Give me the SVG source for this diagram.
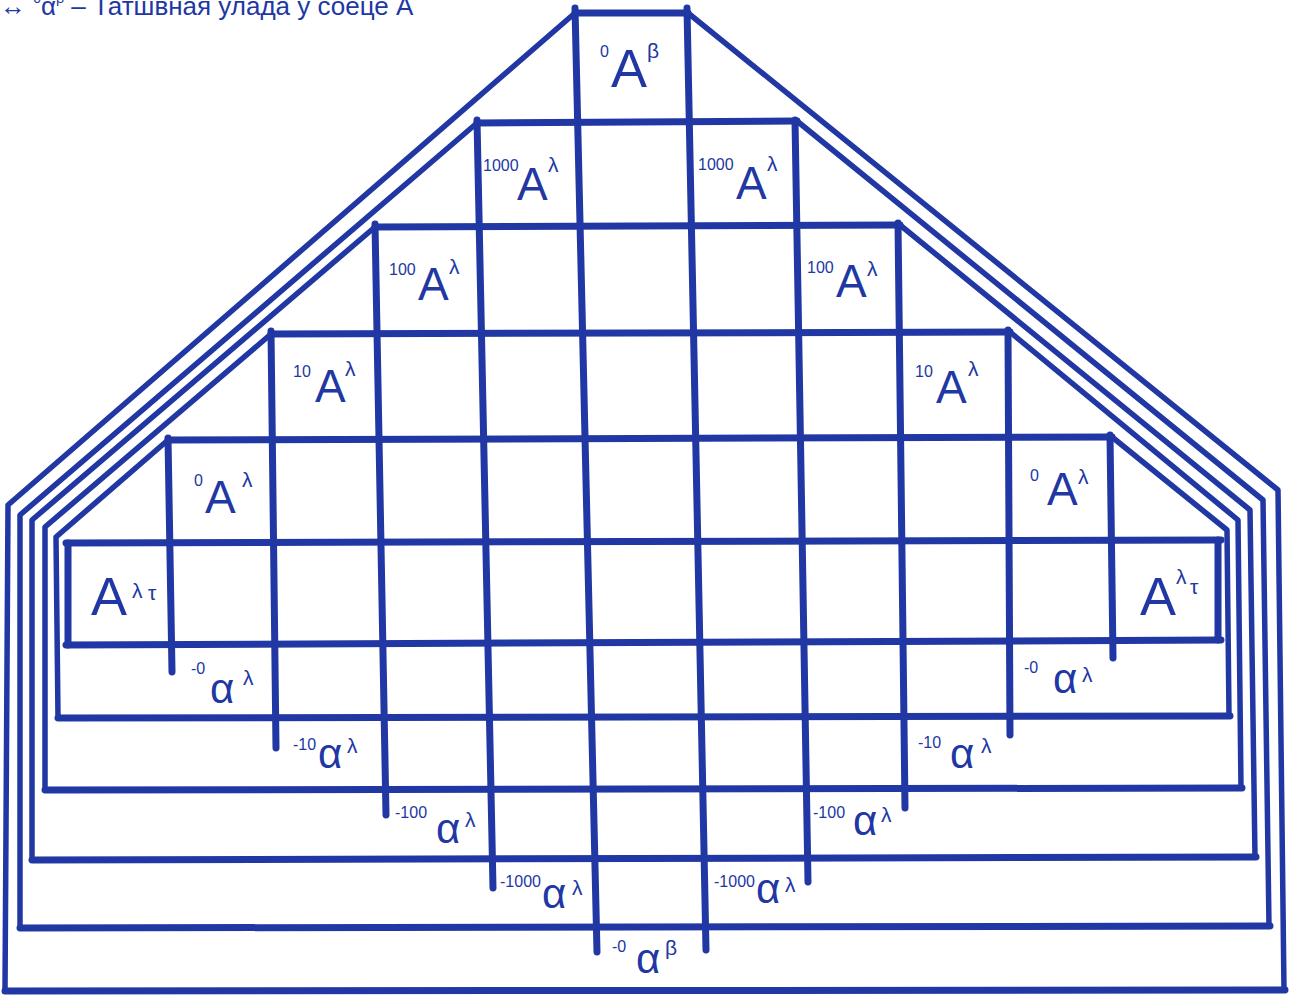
<svg xmlns="http://www.w3.org/2000/svg" width="1290" height="997" viewBox="0 0 1290 997">
<style>
.g{stroke:#2137a3;stroke-width:7;stroke-linecap:round;fill:none}
.r{stroke:#2137a3;stroke-width:5.5;stroke-linejoin:round;stroke-linecap:round;fill:none}
text{font-family:"Liberation Sans",Arial,sans-serif;fill:#2137a3}
.A{font-size:46px}
.AB{font-size:54px}
.s{font-size:16px}
.l{font-size:21px}
.a{font-size:42px}
</style>
<rect width="1290" height="997" fill="#ffffff"/>
<g id="caption">
<text font-size="26" x="0" y="15"><tspan>↔ </tspan><tspan font-size="14" dy="-12">0</tspan><tspan dy="12">α</tspan><tspan font-size="14" dy="-12">β</tspan><tspan dy="12"> – Татшвная улада у соеце А</tspan></text>
</g>
<g id="connectors">
<g id="grid">
<line class="g" x1="168" y1="438" x2="172" y2="672"/>
<line class="g" x1="271" y1="331" x2="276" y2="748"/>
<line class="g" x1="375" y1="224" x2="386" y2="815"/>
<line class="g" x1="477" y1="120" x2="493" y2="888"/>
<line class="g" x1="575" y1="8" x2="597" y2="952"/>
<line class="g" x1="687" y1="8" x2="706" y2="950"/>
<line class="g" x1="795" y1="120" x2="808" y2="882"/>
<line class="g" x1="898" y1="223" x2="905" y2="808"/>
<line class="g" x1="1008" y1="330" x2="1010" y2="735"/>
<line class="g" x1="1110" y1="435" x2="1113" y2="658"/>
<line class="g" x1="575" y1="13" x2="688" y2="13"/>
<line class="g" x1="477" y1="123" x2="797" y2="121"/>
<line class="g" x1="375" y1="227" x2="900" y2="225"/>
<line class="g" x1="271" y1="334" x2="1010" y2="332"/>
<line class="g" x1="168" y1="440" x2="1112" y2="437"/>
<line class="g" x1="66" y1="543" x2="1221" y2="540"/>
<line class="g" x1="66" y1="645" x2="1221" y2="640"/>
<line class="g" x1="58" y1="718" x2="1230" y2="716"/>
<line class="g" x1="45" y1="790" x2="1242" y2="788"/>
<line class="g" x1="32" y1="860" x2="1256" y2="857"/>
<line class="g" x1="20" y1="928" x2="1270" y2="926"/>
<line class="g" x1="5" y1="991" x2="1285" y2="990"/>
<line class="g" x1="68" y1="543" x2="68" y2="645"/>
<line class="g" x1="1218" y1="540" x2="1218" y2="640"/>
</g>
<g id="roof">
<polyline class="r" points="58,718 56,537 168,440"/>
<polyline class="r" points="1112,437 1227,530 1229,716"/>
<polyline class="r" points="45,790 45,527 271,334"/>
<polyline class="r" points="1010,332 1238,520 1241,788"/>
<polyline class="r" points="32,860 32,520 375,227"/>
<polyline class="r" points="900,225 1250,510 1255,857"/>
<polyline class="r" points="20,928 20,515 477,123"/>
<polyline class="r" points="797,121 1263,500 1269,926"/>
<polyline class="r" points="5,991 8,505 575,13"/>
<polyline class="r" points="688,13 1278,490 1284,990"/>
</g>
</g>
<g id="n-0Abeta"><text><tspan class="s" x="600" y="57">0</tspan><tspan class="AB" x="611" y="87">A</tspan><tspan class="l" x="647" y="58">β</tspan></text></g>
<g id="n-1000A-left"><text><tspan class="s" x="483" y="171">1000</tspan><tspan class="A" x="517" y="200">A</tspan><tspan class="l" x="548" y="172">λ</tspan></text></g>
<g id="n-1000A-right"><text><tspan class="s" x="698" y="170">1000</tspan><tspan class="A" x="736" y="199">A</tspan><tspan class="l" x="767" y="171">λ</tspan></text></g>
<g id="n-100A-left"><text><tspan class="s" x="389" y="275">100</tspan><tspan class="A" x="418" y="300">A</tspan><tspan class="l" x="449" y="274">λ</tspan></text></g>
<g id="n-100A-right"><text><tspan class="s" x="807" y="273">100</tspan><tspan class="A" x="836" y="297">A</tspan><tspan class="l" x="867" y="276">λ</tspan></text></g>
<g id="n-10A-left"><text><tspan class="s" x="293" y="377">10</tspan><tspan class="A" x="315" y="402">A</tspan><tspan class="l" x="345" y="376">λ</tspan></text></g>
<g id="n-10A-right"><text><tspan class="s" x="915" y="377">10</tspan><tspan class="A" x="936" y="403">A</tspan><tspan class="l" x="968" y="376">λ</tspan></text></g>
<g id="n-0A-left"><text><tspan class="s" x="194" y="486">0</tspan><tspan class="A" x="205" y="513">A</tspan><tspan class="l" x="242" y="487">λ</tspan></text></g>
<g id="n-0A-right"><text><tspan class="s" x="1030" y="481">0</tspan><tspan class="A" x="1047" y="505">A</tspan><tspan class="l" x="1078" y="484">λ</tspan></text></g>
<g id="n-Alt-left"><text><tspan class="AB" x="91" y="615">A</tspan><tspan class="l" x="132" y="598">λ</tspan><tspan class="l" x="148" y="600">τ</tspan></text></g>
<g id="n-Alt-right"><text><tspan class="AB" x="1140" y="615">A</tspan><tspan class="l" x="1176" y="584">λ</tspan><tspan class="l" x="1190" y="594">τ</tspan></text></g>
<g id="n-m0a-left"><text><tspan class="s" x="191" y="674">-0</tspan><tspan class="a" x="210" y="703">α</tspan><tspan class="l" x="243" y="685">λ</tspan></text></g>
<g id="n-m10a-left"><text><tspan class="s" x="293" y="750">-10</tspan><tspan class="a" x="318" y="768">α</tspan><tspan class="l" x="347" y="753">λ</tspan></text></g>
<g id="n-m100a-left"><text><tspan class="s" x="395" y="818">-100</tspan><tspan class="a" x="436" y="843">α</tspan><tspan class="l" x="465" y="827">λ</tspan></text></g>
<g id="n-m1000a-left"><text><tspan class="s" x="500" y="887">-1000</tspan><tspan class="a" x="542" y="908">α</tspan><tspan class="l" x="572" y="895">λ</tspan></text></g>
<g id="n-m0abeta"><text><tspan class="s" x="612" y="952">-0</tspan><tspan class="a" x="636" y="973">α</tspan><tspan class="l" x="665" y="955">β</tspan></text></g>
<g id="n-m1000a-right"><text><tspan class="s" x="714" y="887">-1000</tspan><tspan class="a" x="756" y="903">α</tspan><tspan class="l" x="785" y="892">λ</tspan></text></g>
<g id="n-m100a-right"><text><tspan class="s" x="813" y="818">-100</tspan><tspan class="a" x="853" y="835">α</tspan><tspan class="l" x="881" y="822">λ</tspan></text></g>
<g id="n-m10a-right"><text><tspan class="s" x="918" y="748">-10</tspan><tspan class="a" x="950" y="768">α</tspan><tspan class="l" x="981" y="753">λ</tspan></text></g>
<g id="n-m0a-right"><text><tspan class="s" x="1024" y="673">-0</tspan><tspan class="a" x="1053" y="693">α</tspan><tspan class="l" x="1082" y="682">λ</tspan></text></g>
</svg>
